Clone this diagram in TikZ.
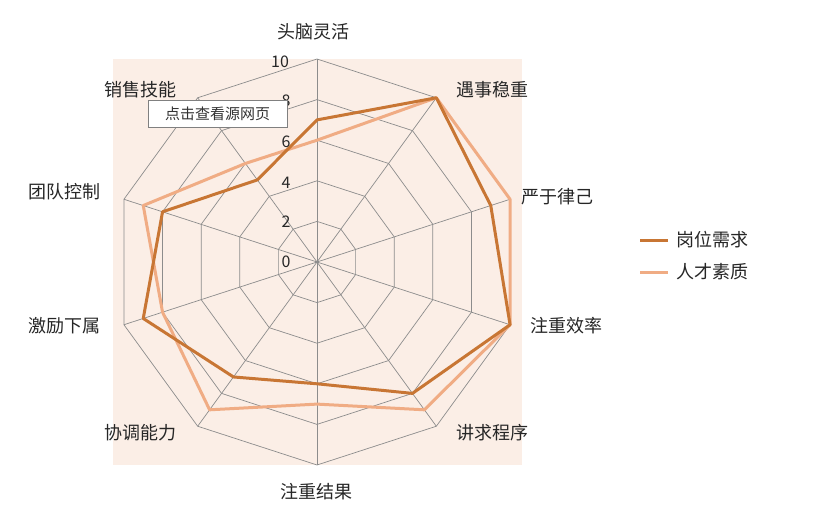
\documentclass[tikz,border=0pt]{standalone}
\usepackage{fontspec}
\setmainfont{Noto Sans CJK SC}
\usetikzlibrary{calc}
\begin{document}
\begin{tikzpicture}[x=1pt,y=-1pt,
  lbl/.style={font=\fontsize{18}{20}\selectfont, text=black!85, inner sep=0pt},
  tick/.style={font=\fontsize{16}{18}\selectfont, text=black!85, inner sep=0pt},
  grid/.style={draw=black!45, line width=0.7pt},
  ser1/.style={draw=dark, line width=3pt, line join=round},
  ser2/.style={draw=light, line width=3pt, line join=round}]
\definecolor{dark}{RGB}{200,118,52}
\definecolor{light}{RGB}{240,172,132}
\definecolor{peach}{RGB}{251,238,230}
\useasboundingbox (0,0) rectangle (839,519);
\fill[white] (0,0) rectangle (839,519);
\fill[peach] (113,59) rectangle (522,465);
\coordinate (O) at (317,262);
\def\R{20.3}
% grid rings
\foreach \v in {2,4,6,8,10}{
  \draw[grid] ($(O)+(-90:\v*\R)$) \foreach \k in {1,...,9}{ -- ($(O)+(36*\k-90:\v*\R)$)} -- cycle;
}
\foreach \k in {0,...,9}{ \draw[grid] (O) -- ($(O)+(36*\k-90:10*\R)$); }
% series
\draw[ser2] ($(O)+(-90:6*\R)$) \foreach \k/\v in {1/10,2/10,3/10,4/9,5/7,6/9,7/8,8/9,9/6}{ -- ($(O)+(36*\k-90:\v*\R)$)} -- cycle;
\draw[ser1] ($(O)+(-90:7*\R)$) \foreach \k/\v in {1/10,2/9,3/10,4/8,5/6,6/7,7/9,8/8,9/5}{ -- ($(O)+(36*\k-90:\v*\R)$)} -- cycle;
% ticks
\node[tick] (t10) at (280,62) {10};
\node[tick] (t8) at (286,101) {8};
\node[tick] (t6) at (286,142) {6};
\node[tick] (t4) at (286,183) {4};
\node[tick] (t2) at (286,222) {2};
\node[tick] (t0) at (286,262) {0};
% axis labels
\node[lbl] (a0) at (313,32) {头脑灵活};
\node[lbl] (a1) at (492,90) {遇事稳重};
\node[lbl] (a2) at (557,197) {严于律己};
\node[lbl] (a3) at (566,326) {注重效率};
\node[lbl] (a4) at (492,433) {讲求程序};
\node[lbl] (a5) at (316,492) {注重结果};
\node[lbl] (a6) at (140,433) {协调能力};
\node[lbl] (a7) at (64,326) {激励下属};
\node[lbl] (a8) at (64,192) {团队控制};
\node[lbl] (a9) at (140,90) {销售技能};
% tooltip
\node[draw=black!50, fill=white, minimum width=139pt, minimum height=27pt, inner sep=0pt,
  font=\fontsize{15}{17}\selectfont, text=black!80] (tip) at (217.5,114) {点击查看源网页};
% legend
\coordinate (l1a) at (640,240); \coordinate (l1b) at (668,240);
\coordinate (l2a) at (640,272); \coordinate (l2b) at (668,272);
\draw[ser1] (l1a) -- (l1b);
\draw[ser2] (l2a) -- (l2b);
\node[lbl, anchor=west] (k1) at (676,240) {岗位需求};
\node[lbl, anchor=west] (k2) at (676,272) {人才素质};
\end{tikzpicture}
\end{document}
